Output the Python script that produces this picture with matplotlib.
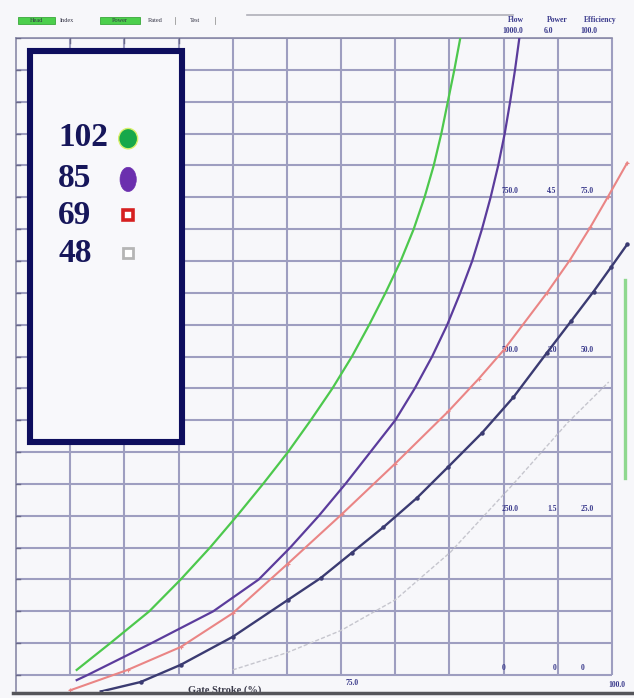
import matplotlib
matplotlib.use("Agg")
import matplotlib.pyplot as plt
from matplotlib.patches import Rectangle, Ellipse

# ---- data -------------------------------------------------------------
# gate stroke (%) vs flow for each speed curve
x102 = [50.6, 53.7, 57.3, 60.2, 62.9, 65.4, 67.8, 70.1, 72.2, 74.2, 76.0,
        77.6, 79.1, 80.5, 81.7, 82.7, 83.55, 84.25, 84.85, 85.45, 86.0]
y102 = [8, 50, 100, 150, 200, 250, 300, 350, 400, 450, 500,
        550, 600, 650, 700, 750, 800, 850, 900, 950, 1000]

x85 = [50.6, 51.6, 57.5, 63.2, 67.4, 70.3, 72.95, 75.4, 77.7, 80.0, 81.8,
       83.4, 84.8, 86.0, 87.1, 88.0, 88.8, 89.5, 90.1, 90.6, 91.05, 91.45]
y85 = [-8, 0, 50, 100, 150, 200, 250, 300, 350, 400, 450,
       500, 550, 600, 650, 700, 750, 800, 850, 900, 950, 1000]

x69 = [50.0, 55.3, 60.2, 65.0, 70.1, 75.1, 80.0, 84.9, 87.7, 90.0, 94.0, 96.1, 98.0, 99.6, 101.4]
y69 = [-24, 8, 44, 97, 175, 253, 332, 414, 465, 510, 600, 651, 703, 750, 804]

x_base = [52.8, 56.5, 60.2, 65.0, 70.1, 73.1, 76.0, 78.9, 82.0, 84.9, 88.0, 90.9, 94.0, 96.2, 98.3, 99.9, 101.4]
y_base = [-26, -11, 16, 60, 118, 152, 192, 232, 278, 327, 380, 436, 506, 555, 602, 640, 676]

x48 = [65.0, 70.0, 75.0, 80.0, 85.1, 90.9, 95.9, 99.7]
y48 = [8, 35, 70, 118, 193, 300, 396, 460]

legend_labels = ["102", "85", "69", "48"]

# right-hand scale labels
flow_ticks = [0, 250, 500, 750]
power_ticks = [0, 1.5, 3.0, 4.5]
eff_ticks = [0, 25.0, 50.0, 75.0]
flow_max, power_max, eff_max = 1000.0, 6.0, 100.0

grid_x = list(range(50, 101, 5))
grid_y = list(range(0, 1001, 50))

# ---- figure -----------------------------------------------------------
W, H = 634, 698
fig = plt.figure(figsize=(W / 100, H / 100), dpi=100)
fig.patch.set_facecolor("#f7f7fa")

ax = fig.add_axes([16 / W, 1 - 691 / H, (W - 16) / W, (691 - 38) / H])
ax.set_facecolor("#f7f7fa")
ax.set_xlim(45, 102.03)
ax.set_ylim(-25.1, 1000)
for s in ax.spines.values():
    s.set_visible(False)
ax.set_xticks([])
ax.set_yticks([])

grid_c = "#9e9ec0"
ax.hlines(grid_y, 45, 100, color=grid_c, lw=1.5, zorder=1)
ax.vlines(grid_x, 0, 1000, color=grid_c, lw=1.5, zorder=1)
# left and top frame
ax.plot([45, 45], [-25.1, 1000], color="#8a8aa8", lw=1.2, zorder=1, clip_on=False)
ax.plot([45, 100], [1000, 1000], color="#8a8aa8", lw=1.2, zorder=1, clip_on=False)
for gy in grid_y:
    ax.plot([45, 45.35], [gy, gy], color="#6a6a8a", lw=1.0, zorder=2)
for gx in [50, 55, 60]:
    ax.plot([gx, gx], [1000, 992], color="#6a6a8a", lw=1.0, zorder=2)

# ---- curves -----------------------------------------------------------
ax.plot(x48, y48, color="#c6c6ce", lw=1.0, ls=(0, (3, 1.5)), zorder=3)
ax.plot(x_base, y_base, color="#3b3b72", lw=1.7, marker="o", ms=2.2, zorder=4)
ax.plot(x69, y69, color="#ea8585", lw=1.5, marker="+", ms=3, mew=0.8, zorder=4)
ax.plot(x85, y85, color="#5b3c9c", lw=1.6, zorder=4)
ax.plot(x102, y102, color="#4dc84d", lw=1.6, zorder=4)

# ---- right-hand scale labels -------------------------------------------
lab_c = "#3a3a8c"
lab_font = dict(family="Liberation Serif", fontsize=5.5, color=lab_c, fontweight="bold")
for f, p, e in zip(flow_ticks, power_ticks, eff_ticks):
    ft = "0" if f == 0 else f"{f:.1f}"
    pt = "0" if p == 0 else f"{p:.1f}"
    et = "0" if e == 0 else f"{e:.1f}"
    yy = f + 4
    ax.text(89.8, yy, ft, ha="left", va="bottom", **lab_font)
    ax.text(94.9, yy, pt, ha="right", va="bottom", **lab_font)
    ax.text(97.1, yy, et, ha="left", va="bottom", **lab_font)

fig.text(516 / W, 1 - 20 / H, "Flow", ha="center", va="center", **lab_font)
fig.text(513 / W, 1 - 31 / H, f"{flow_max:.1f}", ha="center", va="center", **lab_font)
fig.text(557 / W, 1 - 20 / H, "Power", ha="center", va="center", **lab_font)
fig.text(549 / W, 1 - 31 / H, f"{power_max:.1f}", ha="center", va="center", **lab_font)
fig.text(600 / W, 1 - 20 / H, "Efficiency", ha="center", va="center", **lab_font)
fig.text(589 / W, 1 - 31 / H, f"{eff_max:.1f}", ha="center", va="center", **lab_font)

# x-axis labels
fig.text(352 / W, 1 - 683 / H, "75.0", ha="center", va="center", **lab_font)
fig.text(617 / W, 1 - 685 / H, "100.0", ha="center", va="center", **lab_font)
fig.text(225 / W, 1 - 690 / H, "Gate Stroke (%)", ha="center", va="center",
         family="Liberation Serif", fontsize=7.5, fontweight="bold", color="#3a3a4a")

# ---- legend box -------------------------------------------------------
box = Rectangle((46.3, 366), 60.34 - 46.3, 979.6 - 366, facecolor="#f8f8fb",
                edgecolor="#0e0e5e", lw=4.4, zorder=6)
ax.add_patch(box)
leg_y = [844, 780, 722, 662]
leg_font = dict(family="Liberation Serif", fontsize=24, fontweight="bold",
                color="#16165a")
for lab, yy in zip(legend_labels, leg_y):
    ax.text(48.9, yy, lab, ha="left", va="center", zorder=7, **leg_font)

ax.add_patch(Ellipse((55.35, 842), 1.75, 32, facecolor="#17a84a",
                     edgecolor="#d8f06a", lw=1.0, zorder=7))
ax.add_patch(Ellipse((55.35, 778), 1.5, 38, facecolor="#6b2fae",
                     edgecolor="#6b2fae", lw=0.5, zorder=7))
ax.plot([55.35], [722], marker="s", ms=7, mfc="white", mec="#d62020",
        mew=2.6, zorder=7)
ax.plot([55.35], [662], marker="s", ms=7, mfc="white", mec="#b5b5b5",
        mew=2.0, zorder=7)

# ---- window chrome --------------------------------------------------------
over = fig.add_axes([0, 0, 1, 1], zorder=10)
over.set_xlim(0, W)
over.set_ylim(H, 0)
over.axis("off")
over.patch.set_alpha(0)
over.add_patch(Rectangle((18, 17), 37, 7, facecolor="#4ccf4c", edgecolor="#3aa83a", lw=0.6))
over.add_patch(Rectangle((100, 17), 40, 7, facecolor="#4ccf4c", edgecolor="#3aa83a", lw=0.6))
small = dict(family="Liberation Serif", fontsize=4.5, color="#333344", va="center")
over.text(36, 20.5, "Head", ha="center", **small)
over.text(60, 20.5, "Index", ha="left", **small)
over.text(120, 20.5, "Power", ha="center", **small)
over.text(148, 20.5, "Rated", ha="left", **small)
over.text(190, 20.5, "Test", ha="left", **small)
over.plot([175, 175], [17, 24], color="#999", lw=0.6)
over.plot([215, 215], [17, 24], color="#999", lw=0.6)
over.plot([247, 513], [15, 15], color="#b0b0b8", lw=1.2)
# green indicator bar on the right edge
over.plot([625, 625], [280, 478], color="#8fd88f", lw=2.4)
# window bottom border
over.plot([13, W], [693, 693], color="#55555a", lw=2.5)

fig.savefig("out.png", dpi=100, facecolor=fig.get_facecolor())
